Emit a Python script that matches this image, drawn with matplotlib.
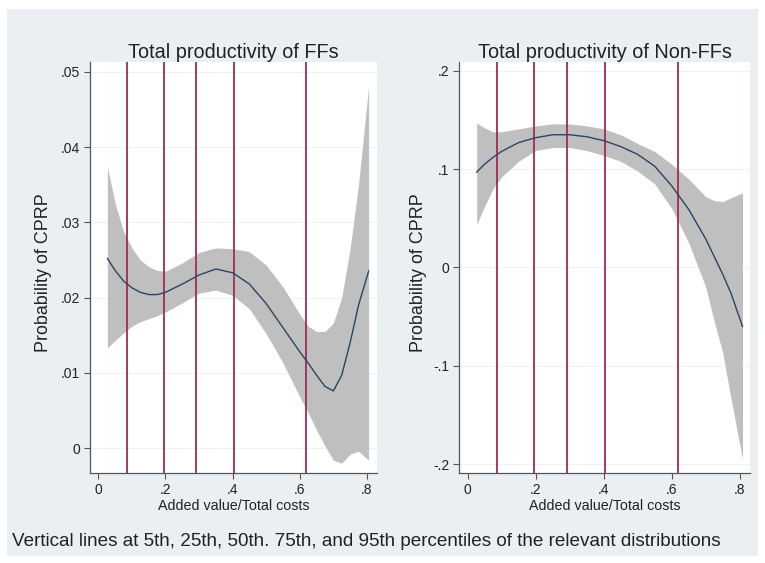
import numpy as np
import matplotlib
matplotlib.use("Agg")
import matplotlib.pyplot as plt
from matplotlib.patches import Rectangle

# ─────────────────────────────────────────────
# DATOS
# ─────────────────────────────────────────────
PERCENTILES = [0.086, 0.196, 0.291, 0.405, 0.619]

X_FF = [0.027, 0.05, 0.075, 0.1, 0.125, 0.15, 0.175, 0.2, 0.25, 0.3, 0.35, 0.4,
        0.45, 0.5, 0.55, 0.6, 0.625, 0.65, 0.675, 0.7, 0.725, 0.75, 0.775, 0.805]
MEAN_FF = [0.0252, 0.0236, 0.0222, 0.0213, 0.0207, 0.0204, 0.0204, 0.0207, 0.0218,
           0.0230, 0.0238, 0.0233, 0.0218, 0.0192, 0.0160, 0.0128, 0.0113, 0.0097,
           0.0082, 0.0076, 0.0097, 0.0140, 0.0190, 0.0235]
UPPER_FF = [0.0374, 0.0325, 0.0288, 0.0266, 0.0250, 0.0241, 0.0236, 0.0235, 0.0246,
            0.0260, 0.0266, 0.0265, 0.0261, 0.0243, 0.0214, 0.0178, 0.0162, 0.0155,
            0.0155, 0.0166, 0.0200, 0.0265, 0.0350, 0.0480]
LOWER_FF = [0.0133, 0.0143, 0.0153, 0.0162, 0.0168, 0.0172, 0.0176, 0.0181, 0.0193,
            0.0206, 0.0210, 0.0203, 0.0185, 0.0152, 0.0113, 0.0068, 0.0047, 0.0024,
            0.0003, -0.0016, -0.0020, -0.0008, -0.0004, -0.0016]

X_NFF = [0.027, 0.05, 0.075, 0.1, 0.15, 0.2, 0.25, 0.3, 0.35, 0.4, 0.45, 0.5,
         0.55, 0.6, 0.65, 0.7, 0.725, 0.75, 0.775, 0.808]
MEAN_NFF = [0.097, 0.105, 0.112, 0.118, 0.127, 0.132, 0.135, 0.135, 0.133, 0.129,
            0.123, 0.115, 0.103, 0.083, 0.059, 0.029, 0.011, -0.007, -0.027, -0.060]
UPPER_NFF = [0.147, 0.142, 0.138, 0.138, 0.141, 0.144, 0.146, 0.146, 0.144, 0.141,
             0.135, 0.126, 0.118, 0.105, 0.090, 0.072, 0.068, 0.067, 0.071, 0.076]
LOWER_NFF = [0.044, 0.062, 0.080, 0.092, 0.108, 0.119, 0.122, 0.122, 0.119, 0.114,
             0.108, 0.098, 0.085, 0.060, 0.025, -0.020, -0.055, -0.087, -0.135, -0.195]

X_TICKS = [0, 0.2, 0.4, 0.6, 0.8]
X_TICKLABELS = ["0", ".2", ".4", ".6", ".8"]
Y_TICKS_FF = [0, 0.01, 0.02, 0.03, 0.04, 0.05]
Y_TICKLABELS_FF = ["0", ".01", ".02", ".03", ".04", ".05"]
Y_TICKS_NFF = [-0.2, -0.1, 0, 0.1, 0.2]
Y_TICKLABELS_NFF = ["-.2", "-.1", "0", ".1", ".2"]

TITLES = ["Total productivity of FFs", "Total productivity of Non-FFs"]
XLABEL = "Added value/Total costs"
YLABEL = "Probability of CPRP"
NOTE = "Vertical lines at 5th, 25th, 50th. 75th, and 95th percentiles of the relevant distributions"

# ─────────────────────────────────────────────
# ESTILO
# ─────────────────────────────────────────────
plt.rcParams["font.family"] = ["Liberation Sans", "DejaVu Sans"]
BG       = "#e9eff3"
BAND     = "#bfbfbf"
LINE     = "#2a4564"
VLINE    = "#a32a52"
AXCOL    = "#555555"
TXT      = "#222222"


def draw_panel(ax, x, mean, lo, hi, yticks, ylabels, ylim, title, ylab_x):
    ax.set_facecolor("white")
    for v in yticks:
        ax.axhline(v, color="#eef2f4", lw=0.8, zorder=0)
    ax.fill_between(x, lo, hi, color=BAND, lw=0, zorder=1)
    for p in PERCENTILES:
        ax.axvline(p, color=VLINE, lw=1.3, zorder=2)
    ax.plot(x, mean, color=LINE, lw=1.0, zorder=3)

    ax.set_xlim(-0.025, 0.83)
    ax.set_ylim(*ylim)
    ax.set_xticks(X_TICKS)
    ax.set_xticklabels(X_TICKLABELS)
    ax.set_yticks(yticks)
    ax.set_yticklabels(ylabels)
    ax.tick_params(direction="out", length=4, width=0.8, color=AXCOL,
                   labelsize=10, pad=3, labelcolor=TXT)
    for s in ["top", "right"]:
        ax.spines[s].set_visible(False)
    for s in ["left", "bottom"]:
        ax.spines[s].set_color(AXCOL)
        ax.spines[s].set_linewidth(0.9)

    ax.set_title(title, fontsize=14.3, color=TXT, pad=2)
    ax.set_xlabel(XLABEL, fontsize=10.3, color=TXT, labelpad=2)
    ax.set_ylabel(YLABEL, fontsize=12.9, color=TXT)
    ax.yaxis.set_label_coords(ylab_x, 0.487)


# ─────────────────────────────────────────────
# FIGURA
# ─────────────────────────────────────────────
fig = plt.figure(figsize=(7.65, 5.63), dpi=100)
fig.patch.set_facecolor("white")
fig.patches.append(Rectangle((7 / 765, 7 / 563), 751 / 765, 547 / 563,
                             transform=fig.transFigure, facecolor=BG,
                             edgecolor="none", zorder=-10))

ax1 = fig.add_axes([0.1176, 0.1599, 0.3752, 0.7300])
ax2 = fig.add_axes([0.6000, 0.1599, 0.3804, 0.7300])

draw_panel(ax1, X_FF, MEAN_FF, LOWER_FF, UPPER_FF,
           Y_TICKS_FF, Y_TICKLABELS_FF, (-0.0033, 0.0513), TITLES[0], -0.132)
draw_panel(ax2, X_NFF, MEAN_NFF, LOWER_NFF, UPPER_NFF,
           Y_TICKS_NFF, Y_TICKLABELS_NFF, (-0.209, 0.209), TITLES[1], -0.11)

fig.text(12 / 765, 1 - 542 / 563, NOTE, fontsize=13.6, color=TXT,
         va="center", ha="left")

plt.savefig("out.png", dpi=100)
